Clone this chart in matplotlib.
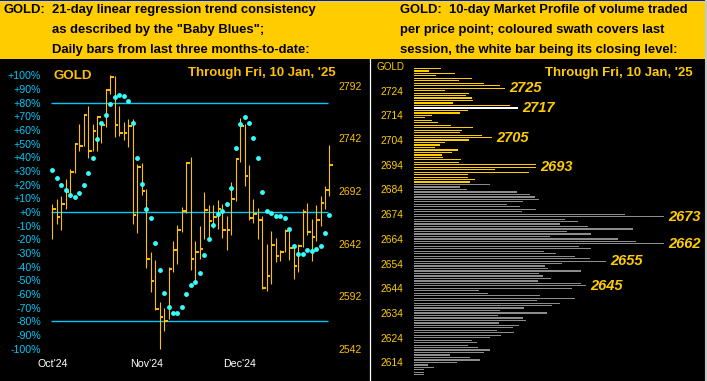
import matplotlib.pyplot as plt
from matplotlib.patches import Rectangle
from matplotlib.lines import Line2D

plt.rcParams['font.family'] = ['Liberation Sans', 'DejaVu Sans']

# left panel: daily bars Oct'24 -> 10 Jan '25
bar_high = [2680, 2684, 2687, 2703, 2713, 2738, 2756, 2764, 2773, 2756,
            2762, 2758, 2789, 2802, 2801, 2773, 2758, 2760, 2760, 2718,
            2719, 2694, 2634, 2626, 2586, 2581, 2620, 2644, 2660, 2677,
            2720, 2724, 2644, 2659, 2691, 2679, 2679, 2683, 2680, 2668,
            2701, 2723, 2761, 2756, 2717, 2684, 2676, 2668, 2642, 2654,
            2647, 2636, 2656, 2657, 2641, 2642, 2675, 2681, 2665, 2679,
            2687, 2697, 2736]
bar_low = [2646, 2661, 2655, 2675, 2688, 2709, 2730, 2735, 2723, 2730,
           2730, 2738, 2753, 2784, 2743, 2744, 2740, 2734, 2661, 2652,
           2688, 2619, 2596, 2579, 2542, 2559, 2570, 2615, 2623, 2653,
           2671, 2617, 2606, 2627, 2646, 2645, 2657, 2656, 2647, 2636,
           2650, 2682, 2720, 2697, 2664, 2662, 2646, 2599, 2597, 2604,
           2624, 2625, 2634, 2626, 2608, 2615, 2639, 2650, 2625, 2644,
           2659, 2675, 2687]
bar_close = [2675, 2667, 2680, 2691, 2710, 2737, 2735, 2764, 2730, 2749,
             2762, 2755, 2788, 2800, 2755, 2747, 2747, 2754, 2669, 2715,
             2692, 2627, 2606, 2580, 2572, 2568, 2618, 2636, 2655, 2673,
             2719, 2627, 2634, 2637, 2674, 2663, 2667, 2675, 2655, 2655,
             2684, 2722, 2754, 2706, 2666, 2670, 2664, 2600, 2611, 2641,
             2630, 2634, 2654, 2638, 2621, 2640, 2672, 2653, 2648, 2664,
             2681, 2693, 2717]
# "Baby Blues" trend consistency, in percent
baby_blues = [31.0, 25.1, 19.8, 16.1, 12.5, 11.2, 14.2, 19.8, 28.8, 39.8,
              53.7, 65.4, 71.2, 78.8, 84.4, 85.6, 84.9, 81.5, 65.4, 39.8,
              20.5, 2.2, -4.4, -22.4, -42.4, -59.0, -69.2, -73.6, -73.6, -69.2,
              -59.9, -53.4, -50.9, -44.4, -31.4, -19.7, -9.5, -1.4, 1.0, 5.9,
              17.8, 46.8, 64.4, 69.8, 65.4, 54.4, 39.8, 14.9, 0.8, -0.9,
              -2.7, -2.7, -4.4, -12.4, -24.6, -30.7, -30.7, -27.8, -28.5, -27.0,
              -24.6, -15.1, -2.2]
month_pos = [0, 21, 42]
month_labels = ["Oct'24", "Nov'24", "Dec'24"]
pct_ticks = [100, 90, 80, 70, 60, 50, 40, 30, 20, 10, 0,
             -10, -20, -30, -40, -50, -60, -70, -80, -90, -100]
price_ticks_left = [2542, 2592, 2642, 2692, 2742, 2792]

# right panel: 10-day market profile
profile_price = list(range(2733, 2608, -1))
profile_vol = [27, 15, 41, 22, 58, 45, 70, 86, 91, 31,
               55, 52, 58, 59, 39, 96, 104, 54, 46, 18,
               11, 18, 24, 37, 59, 48, 46, 68, 78, 55,
               31, 26, 21, 44, 38, 28, 29, 47, 45, 122,
               122, 81, 115, 54, 54, 61, 56, 76, 46, 53,
               103, 116, 121, 125, 109, 93, 106, 122, 108, 211,
               250, 151, 164, 146, 174, 219, 153, 177, 136, 204,
               222, 250, 165, 177, 130, 142, 161, 176, 192, 148,
               131, 134, 167, 125, 129, 137, 124, 167, 172, 158,
               65, 74, 126, 161, 123, 146, 138, 110, 86, 133,
               84, 109, 112, 85, 105, 99, 83, 100, 87, 76,
               58, 63, 54, 64, 76, 70, 36, 56, 66, 43,
               14, 20, 10, 10, 10]
profile_labels = [2725, 2717, 2705, 2693, 2673, 2662, 2655, 2645]
price_ticks_right = [2724, 2714, 2704, 2694, 2684, 2674, 2664, 2654, 2644, 2634, 2624, 2614]
last_close = 2717

W, H = 707, 381
GOLD = '#FFC000'
YEL = '#FFCC00'
CYAN = '#00C8F8'
DOT = '#33FFFF'
GREY = '#8C8C8C'


def box(x0, y0, x1, y1):
    # pixel box (top-left origin) -> figure fraction
    return [x0 / W, 1 - y1 / H, (x1 - x0) / W, (y1 - y0) / H]


def ftext(x, y, s, **kw):
    fig.text(x / W, 1 - y / H, s, **kw)


fig = plt.figure(figsize=(W / 100, H / 100), dpi=100, facecolor='black')

# header band
fig.patches.append(Rectangle((0, 1 - 59 / H), 1, 57 / H, transform=fig.transFigure,
                             facecolor=YEL, edgecolor='none', zorder=0))
fig.add_artist(Line2D([0, 1], [1 - 0.5 / H] * 2, color='#C8C8C8', lw=1))
fig.add_artist(Line2D([1 - 1 / W] * 2, [0, 1], color='#C8C8C8', lw=1.5))
fig.add_artist(Line2D([369.5 / W] * 2, [0, 1 - 59 / H], color='white', lw=0.9))

hdr = dict(fontsize=9.35, fontweight='bold', color='black', va='center')
ftext(3, 10, 'GOLD:', **hdr)
ftext(52, 10, '21-day linear regression trend consistency', **hdr)
ftext(52, 30, 'as described by the "Baby Blues";', **hdr)
ftext(52, 50, 'Daily bars from last three months-to-date:', **hdr)
ftext(400, 10, 'GOLD:  10-day Market Profile of volume traded', **hdr)
ftext(400, 30, 'per price point; coloured swath covers last', **hdr)
ftext(400, 50, 'session, the white bar being its closing level:', **hdr)

# ---- left panel
ax = fig.add_axes(box(46, 62, 335, 356))
ax.set_facecolor('black')
ax.set_xlim(-1.41, 63.24)
ax.set_ylim(-105.3, 109.7)
for s in ax.spines.values():
    s.set_visible(False)
ax.set_yticks(pct_ticks)
ax.set_yticklabels([('+%d%%' % p) if p >= 0 else ('%d%%' % p) for p in pct_ticks])
ax.tick_params(axis='y', length=0, pad=3.6, labelsize=7.7, labelcolor=CYAN)
ax.set_xticks(month_pos)
ax.set_xticklabels(month_labels)
ax.tick_params(axis='x', length=0, pad=2.5, labelsize=7.7, labelcolor='white')

ax.hlines([80, 0, -80], -0.3, 61.7, color=CYAN, lw=1.0, zorder=1)

ax2 = ax.twinx()
ax2.set_ylim(2672 + 1.3 * -105.3, 2672 + 1.3 * 109.7)
for s in ax2.spines.values():
    s.set_visible(False)
ax2.set_yticks(price_ticks_left)
ax2.tick_params(axis='y', length=0, pad=2.2, labelsize=7.5, labelcolor=GOLD)

xs = list(range(len(bar_close)))
ax2.vlines(xs, bar_low, bar_high, color=GOLD, lw=0.8, zorder=2)
ax2.hlines(bar_close, xs, [x + 0.8 for x in xs], color=GOLD, lw=1.4, zorder=2)
ax2.plot(xs, [2672 + 1.3 * b for b in baby_blues], 'o', ms=3.5, color=DOT,
         markeredgewidth=0, zorder=3)

ftext(54, 76, 'GOLD', fontsize=9.6, fontweight='bold', color=GOLD, va='center')
ftext(336, 73, "Through Fri, 10 Jan, '25", fontsize=9.5, fontweight='bold',
      color=GOLD, va='center', ha='right')

# ---- right panel
axr = fig.add_axes(box(414, 62, 705, 378))
axr.set_facecolor('none')
axr.set_xlim(0, 291)
axr.set_ylim(2607.7, 2735.6)
for s in axr.spines.values():
    s.set_visible(False)
axr.set_xticks([])
axr.set_yticks(price_ticks_right)
axr.tick_params(axis='y', length=0, pad=8, labelsize=7.4, labelcolor=YEL)

sess_lo, sess_hi = bar_low[-1], bar_high[-1]
colors = []
for p in profile_price:
    if p == last_close:
        colors.append('white')
    elif sess_lo <= p <= sess_hi:
        colors.append(YEL)
    else:
        colors.append(GREY)
axr.barh(profile_price, profile_vol, height=0.5, color=colors, linewidth=0)

for p in profile_labels:
    v = profile_vol[profile_price.index(p)]
    axr.text(v + 4, p, str(p), fontsize=10.5, fontweight='bold', fontstyle='italic',
             color=YEL, va='center', ha='left', clip_on=False)

ftext(376, 67, 'GOLD', fontsize=7.1, color=YEL, va='center')
ftext(693, 73, "Through Fri, 10 Jan, '25", fontsize=9.5, fontweight='bold',
      color=YEL, va='center', ha='right')

fig.savefig('out.png', dpi=100, facecolor='black')
